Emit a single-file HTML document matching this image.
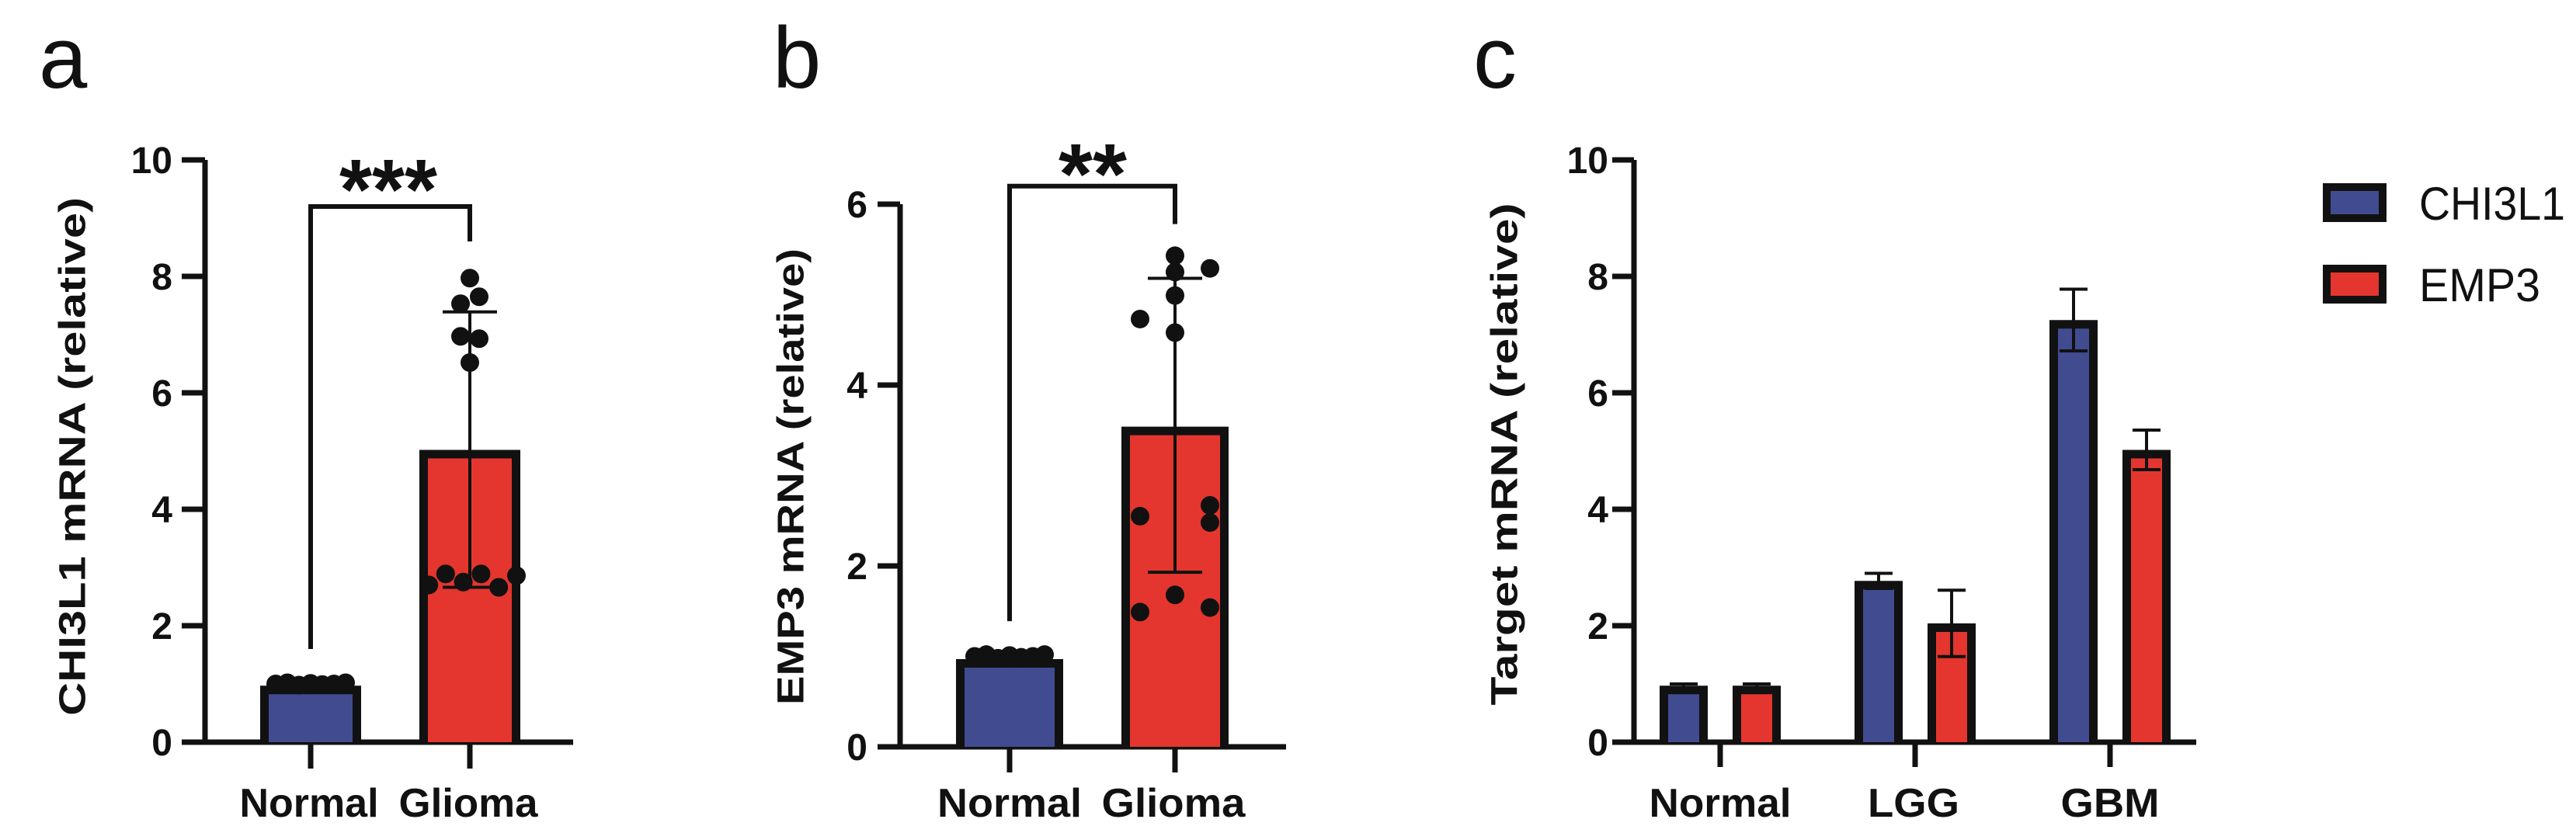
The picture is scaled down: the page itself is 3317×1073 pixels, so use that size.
<!DOCTYPE html>
<html><head><meta charset="utf-8"><style>
html,body{margin:0;padding:0;background:#fff;}
svg{display:block;}
text{font-family:"Liberation Sans",Arial,sans-serif;fill:#111;}
</style></head><body>
<svg id="fig" width="3317" height="1073" viewBox="0 0 3317 1073" xmlns="http://www.w3.org/2000/svg">
<text x="50" y="113" font-size="112">a</text>
<text x="995" y="113" font-size="112">b</text>
<text x="1897" y="113" font-size="112">c</text>
</svg>
<script>
// ---- Panel A data ----
const aCategories = ["Normal", "Glioma"];
const aMeans = [0.97, 5.02];
const aErrLow = [0.97, 2.66];
const aErrHigh = [0.97, 7.39];
const aNormalPoints = [1.0, 1.02, 0.98, 1.01, 0.99, 1.0, 1.02];
const aGliomaPoints = [7.97, 7.65, 7.53, 6.97, 6.93, 6.52, 2.7, 2.89, 2.75, 2.89, 2.66, 2.86];
const aGliomaJitter = [0, 0.5, -0.5, -0.5, 0.5, 0, -2.2, -1.3, -0.35, 0.6, 1.55, 2.5];
const aTicks = [0, 2, 4, 6, 8, 10];
// ---- Panel B data ----
const bCategories = ["Normal", "Glioma"];
const bMeans = [0.97, 3.54];
const bErrLow = [0.97, 1.93];
const bErrHigh = [0.97, 5.18];
const bNormalPoints = [1.0, 1.02, 0.98, 1.01, 0.99, 1.0, 1.02];
const bGliomaPoints = [5.43, 5.29, 5.25, 4.99, 4.73, 4.58, 2.67, 2.55, 2.48, 1.68, 1.49, 1.54];
const bGliomaJitter = [0, 1, 0, 0, -1, 0, 1, -1, 1, 0, -1, 1];
const bTicks = [0, 2, 4, 6];
// ---- Panel C data ----
const cCategories = ["Normal", "LGG", "GBM"];
const cSeries = ["CHI3L1", "EMP3"];
const cChi = [0.97, 2.77, 7.25];
const cEmp = [0.97, 2.04, 5.02];
const cChiErr = [0.03, 0.13, 0.53];
const cEmpErr = [0.03, 0.57, 0.34];
const cTicks = [0, 2, 4, 6, 8, 10];

const NS = "http://www.w3.org/2000/svg";
const svg = document.getElementById("fig");
const BLUE = "#414b90", RED = "#e4362e", INK = "#111";
function mk(tag, attrs, parent) {
  const e = document.createElementNS(NS, tag);
  for (const k in attrs) e.setAttribute(k, attrs[k]);
  (parent || svg).appendChild(e);
  return e;
}
function line(x1, y1, x2, y2, w, g) { return mk("line", {x1, y1, x2, y2, stroke: INK, "stroke-width": w, "stroke-linecap": "butt"}, g); }

function bar(g, cx, w, y0, yTop, fill, name) {
  const bw = 11;
  const r = mk("rect", {x: cx - w / 2, y: yTop, width: w, height: y0 - yTop, fill: INK}, g);
  
  
  const h = Math.max(0, y0 - yTop - bw);
  mk("rect", {x: cx - w / 2 + bw, y: yTop + bw, width: Math.max(0, w - 2 * bw), height: h, fill: fill}, g);
}
function errbar(g, cx, yLo, yHi, cap, name) {
  const e = mk("g", {}, g);
  
  
  line(cx, yLo, cx, yHi, 4, e);
  line(cx - cap / 2, yHi, cx + cap / 2, yHi, 4, e);
  line(cx - cap / 2, yLo, cx + cap / 2, yLo, 4, e);
}
function yAxis(g, ax, y, ticks, xl, xr, labelRight, fs) {
  const top = y(ticks[ticks.length - 1]);
  const a = line(ax, top, ax, y(0) + 3, 7, g);
  
  
  const b = line(xl, y(0), xr, y(0), 7, g);
  
  
  ticks.forEach(t => {
    line(xl, y(t), ax, y(t), 7, g);
    const tx = mk("text", {x: labelRight, y: y(t) + 17, "font-size": fs, "font-weight": "bold", "text-anchor": "end"}, g);
    tx.textContent = t;
    
    
  });
}
function yTitle(g, cx, cy, len, txt, fs) {
  const t = mk("text", {x: 0, y: 0, "font-size": fs, "font-weight": "bold", "text-anchor": "middle", transform: `translate(${cx + fs * 0.36},${cy}) rotate(-90)`, textLength: len, lengthAdjust: "spacingAndGlyphs"}, g);
  t.textContent = txt;
  
  
}
function catLabel(g, cx, y, txt, len, fs) {
  const t = mk("text", {x: cx, y, "font-size": fs, "font-weight": "bold", "text-anchor": "middle", textLength: len, lengthAdjust: "spacingAndGlyphs"}, g);
  t.textContent = txt;
  
  
}
function dots(g, cx, spread, vals, jit, y, name) {
  vals.forEach((v, i) => {
    const c = mk("circle", {cx: cx + jit[i] * spread, cy: y(v), r: 12, fill: INK}, g);
    
    
  });
}
function bracket(g, xl, xr, yTop, yL, yR, starsX, starsY, stars, fs, len) {
  const e = mk("path", {d: `M${xl},${yL} L${xl},${yTop} L${xr},${yTop} L${xr},${yR}`, fill: "none", stroke: INK, "stroke-width": 6}, g);
  
  
  const t = mk("text", {x: starsX, y: starsY, "font-size": fs, "font-weight": "bold", "text-anchor": "middle", textLength: len, lengthAdjust: "spacingAndGlyphs"}, g);
  t.textContent = stars;
  
  
}

// ===== Panel A =====
(function () {
  const g = mk("g", {});
  
  
  const y0 = 956, k = 75;
  const y = v => y0 - v * k;
  const xs = [400, 605];
  yAxis(g, 264, y, aTicks, 234, 738, 222, 48);
  yTitle(g, 92, 588, 668, "CHI3L1 mRNA (relative)", 48);
  xs.forEach(x => line(x, y0, x, 990, 7, g));
  bar(g, xs[0], 130, y0, y(aMeans[0]), BLUE, "bar-normal");
  bar(g, xs[1], 130, y0, y(aMeans[1]), RED, "bar-glioma");
  dots(g, xs[0], 1, aNormalPoints, [-45, -30, -15, 0, 15, 30, 45], y, "point-normal");
  errbar(g, xs[1], y(aErrLow[1]), y(aErrHigh[1]), 70, "error-bar-glioma");
  dots(g, xs[1], 24, aGliomaPoints, aGliomaJitter, y, "point-glioma");
  bracket(g, xs[0], xs[1], y(9.2), y(1.6), y(8.6), 500, 282, "***", 110, 126);
  catLabel(g, 398, 1052, aCategories[0], 179, 52);
  catLabel(g, 603, 1052, aCategories[1], 179, 52);
})();

// ===== Panel B =====
(function () {
  const g = mk("g", {});
  
  
  const y0 = 962, k = 116.5;
  const y = v => y0 - v * k;
  const xs = [1300, 1513];
  yAxis(g, 1159, y, bTicks, 1130, 1656, 1117, 48);
  yTitle(g, 1017, 614, 588, "EMP3 mRNA (relative)", 48);
  xs.forEach(x => line(x, y0, x, 995, 7, g));
  bar(g, xs[0], 138, y0, y(bMeans[0]), BLUE, "bar-normal");
  bar(g, xs[1], 138, y0, y(bMeans[1]), RED, "bar-glioma");
  dots(g, xs[0], 1, bNormalPoints, [-45, -30, -15, 0, 15, 30, 45], y, "point-normal");
  errbar(g, xs[1], y(bErrLow[1]), y(bErrHigh[1]), 70, "error-bar-glioma");
  dots(g, xs[1], 45, bGliomaPoints, bGliomaJitter, y, "point-glioma");
  bracket(g, xs[0], xs[1], y(6.2), y(1.39), y(5.78), 1407, 262, "**", 110, 88);
  catLabel(g, 1300, 1052, bCategories[0], 186, 52);
  catLabel(g, 1511, 1052, bCategories[1], 185, 52);
})();

// ===== Panel C =====
(function () {
  const g = mk("g", {});
  
  
  const y0 = 956, k = 75;
  const y = v => y0 - v * k;
  const xs = [2215, 2466, 2717];
  const off = 47, w = 62;
  yAxis(g, 2104, y, cTicks, 2076, 2828, 2071, 48);
  yTitle(g, 1936, 585, 647, "Target mRNA (relative)", 48);
  xs.forEach((x, i) => {
    line(x, y0, x, 988, 7, g);
    bar(g, x - off, w, y0, y(cChi[i]), BLUE, "bar-chi3l1-" + cCategories[i].toLowerCase());
    errbar(g, x - off, y(cChi[i] - cChiErr[i]), y(cChi[i] + cChiErr[i]), 36, "error-bar-chi3l1");
    bar(g, x + off, w, y0, y(cEmp[i]), RED, "bar-emp3-" + cCategories[i].toLowerCase());
    errbar(g, x + off, y(cEmp[i] - cEmpErr[i]), y(cEmp[i] + cEmpErr[i]), 36, "error-bar-emp3");
  });
  catLabel(g, 2215, 1052, cCategories[0], 183, 52);
  catLabel(g, 2464, 1052, cCategories[1], 118, 52);
  catLabel(g, 2717, 1052, cCategories[2], 127, 52);
  // legend
  const colors = [BLUE, RED];
  const ly = [261, 366];
  cSeries.forEach((s, i) => {
    const lg = mk("g", {}, g);
    
    
    mk("rect", {x: 2991, y: ly[i] - 25, width: 82, height: 50, fill: INK}, lg);
    mk("rect", {x: 3001, y: ly[i] - 15, width: 62, height: 30, fill: colors[i]}, lg);
    const t = mk("text", {x: 3115, y: ly[i] + 22, "font-size": 60, textLength: i === 0 ? 188 : 156, lengthAdjust: "spacingAndGlyphs"}, lg);
    t.textContent = s;
  });
})();
</script>
</body></html>
